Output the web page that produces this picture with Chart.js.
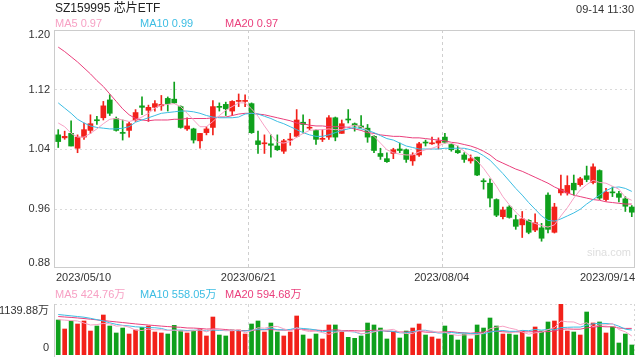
<!DOCTYPE html>
<html><head><meta charset="utf-8">
<script src="https://cdn.jsdelivr.net/npm/chart.js@4.4.0/dist/chart.umd.min.js"></script>
<style>
html,body{margin:0;padding:0;background:#fff;width:640px;height:360px;overflow:hidden;font-family:"Liberation Sans",Arial,"Noto Sans CJK SC",sans-serif;}
#wrap{position:relative;width:640px;height:360px;}
canvas{position:absolute;left:0;}
.t{position:absolute;white-space:nowrap;font-size:11px;line-height:13px;}
</style></head><body>
<div id="wrap">
<canvas id="pc" width="640" height="290" style="top:0"></canvas>
<canvas id="vc" width="640" height="70" style="top:290px"></canvas>
<div class="t" style="left:55px;top:1px;font-size:12px;line-height:14px;color:#222">SZ159995 芯片ETF</div>
<div class="t" style="right:6px;top:3px;color:#333">09-14 11:30</div>
<div class="t" style="left:55px;top:17px;color:#f7a1c4">MA5 0.97</div>
<div class="t" style="left:140px;top:17px;color:#3cbde3">MA10 0.99</div>
<div class="t" style="left:225px;top:17px;color:#ea3f7c">MA20 0.97</div>
<div class="t" style="left:55px;top:288px;color:#f7a1c4">MA5 424.76万</div>
<div class="t" style="left:140px;top:288px;color:#3cbde3">MA10 558.05万</div>
<div class="t" style="left:225px;top:288px;color:#ea3f7c">MA20 594.68万</div>
</div>
<script>
const dates = ("2023/05/10 2023/05/11 2023/05/12 2023/05/15 2023/05/16 2023/05/17 2023/05/18 2023/05/19 2023/05/22 2023/05/23 2023/05/24 2023/05/25 2023/05/26 2023/05/29 2023/05/30 2023/05/31 " +
"2023/06/01 2023/06/02 2023/06/05 2023/06/06 2023/06/07 2023/06/08 2023/06/09 2023/06/12 2023/06/13 2023/06/14 2023/06/15 2023/06/16 2023/06/19 2023/06/20 2023/06/21 2023/06/26 2023/06/27 2023/06/28 2023/06/29 2023/06/30 " +
"2023/07/03 2023/07/04 2023/07/05 2023/07/06 2023/07/07 2023/07/10 2023/07/11 2023/07/12 2023/07/13 2023/07/14 2023/07/17 2023/07/18 2023/07/19 2023/07/20 2023/07/21 2023/07/24 2023/07/25 2023/07/26 2023/07/27 2023/07/28 2023/07/31 " +
"2023/08/01 2023/08/02 2023/08/03 2023/08/04 2023/08/07 2023/08/08 2023/08/09 2023/08/10 2023/08/11 2023/08/14 2023/08/15 2023/08/16 2023/08/17 2023/08/18 2023/08/21 2023/08/22 2023/08/23 2023/08/24 2023/08/25 2023/08/28 2023/08/29 2023/08/30 2023/08/31 " +
"2023/09/01 2023/09/04 2023/09/05 2023/09/06 2023/09/07 2023/09/08 2023/09/11 2023/09/12 2023/09/13 2023/09/14").split(" ");

const opens = [1.059,1.055,1.061,1.041,1.056,1.065,1.079,1.082,1.106,1.081,
1.062,1.065,1.079,1.098,1.092,1.096,1.098,1.108,1.107,1.097,
1.067,1.067,1.051,1.062,1.069,1.097,1.100,1.091,1.104,1.104,
1.101,1.051,1.047,1.047,1.044,1.037,1.052,1.057,1.076,1.068,
1.065,1.053,1.056,1.082,1.061,1.080,1.074,1.071,1.068,1.057,
1.034,1.027,1.034,1.040,1.039,1.024,1.032,1.049,1.047,1.048,
1.056,1.046,1.038,1.032,1.024,1.029,0.997,0.994,0.972,0.949,
0.962,0.945,0.938,0.944,0.931,0.934,0.978,0.928,0.981,0.981,
0.994,0.992,1.004,0.995,1.011,0.972,0.982,0.980,0.973,0.962];

const closes = [1.050,1.057,1.044,1.056,1.066,1.074,1.078,1.098,1.088,1.065,
1.061,1.074,1.089,1.096,1.096,1.101,1.100,1.101,1.102,1.069,
1.071,1.052,1.061,1.067,1.097,1.096,1.094,1.104,1.105,1.105,
1.062,1.046,1.048,1.045,1.039,1.051,1.053,1.079,1.073,1.069,
1.053,1.054,1.082,1.056,1.074,1.079,1.071,1.069,1.056,1.038,
1.030,1.023,1.039,1.038,1.026,1.032,1.047,1.048,1.048,1.051,
1.049,1.039,1.035,1.026,1.027,1.005,0.996,0.974,0.951,0.958,
0.948,0.936,0.946,0.928,0.941,0.920,0.932,0.962,0.986,0.991,
0.985,1.000,0.999,1.016,0.974,0.982,0.981,0.975,0.963,0.955];

const highs = [1.066,1.064,1.078,1.059,1.075,1.086,1.084,1.104,1.113,1.083,
1.079,1.076,1.093,1.110,1.099,1.105,1.112,1.110,1.130,1.098,
1.082,1.068,1.061,1.070,1.105,1.102,1.103,1.105,1.114,1.113,
1.102,1.064,1.059,1.059,1.059,1.053,1.061,1.093,1.086,1.080,
1.066,1.066,1.085,1.083,1.079,1.093,1.075,1.085,1.073,1.058,
1.041,1.035,1.041,1.048,1.040,1.035,1.049,1.052,1.056,1.055,
1.061,1.047,1.044,1.035,1.032,1.029,1.000,1.000,0.973,0.962,
0.964,0.951,0.956,0.945,0.953,0.940,0.981,0.967,1.005,1.004,
1.005,1.002,1.017,1.020,1.012,0.987,0.989,0.983,0.976,0.964];

const lows = [1.042,1.053,1.044,1.035,1.053,1.061,1.073,1.079,1.085,1.064,
1.052,1.056,1.077,1.086,1.077,1.091,1.092,1.091,1.101,1.068,
1.065,1.048,1.041,1.059,1.059,1.091,1.085,1.085,1.097,1.097,
1.061,1.034,1.034,1.029,1.038,1.034,1.045,1.056,1.061,1.066,
1.046,1.050,1.053,1.051,1.061,1.075,1.064,1.068,1.049,1.035,
1.026,1.022,1.027,1.035,1.022,1.018,1.030,1.044,1.046,1.040,
1.048,1.037,1.034,1.022,1.021,1.004,0.986,0.962,0.949,0.946,
0.947,0.932,0.921,0.926,0.929,0.916,0.927,0.927,0.978,0.978,
0.978,0.990,0.996,0.993,0.972,0.970,0.976,0.969,0.956,0.949];

const ma5 = [1.075,1.070,1.061,1.056,1.056,1.061,1.067,1.074,1.080,1.081,
1.079,1.077,1.079,1.083,1.088,1.095,1.099,1.100,1.101,1.097,
1.088,1.079,1.070,1.070,1.077,1.085,1.092,1.097,1.102,1.102,
1.094,1.084,1.071,1.059,1.049,1.048,1.050,1.056,1.061,1.065,
1.066,1.066,1.067,1.066,1.066,1.070,1.072,1.070,1.065,1.057,
1.048,1.039,1.035,1.033,1.032,1.032,1.036,1.039,1.041,1.044,
1.048,1.048,1.044,1.037,1.030,1.024,1.014,1.002,0.990,0.976,
0.965,0.955,0.947,0.943,0.940,0.937,0.935,0.938,0.950,0.961,
0.974,0.985,0.992,0.998,0.995,0.994,0.990,0.986,0.975,0.971];

const ma10 = [1.102,1.095,1.088,1.080,1.075,1.071,1.069,1.068,1.067,1.067,
1.068,1.070,1.076,1.079,1.082,1.085,1.088,1.089,1.090,1.091,
1.091,1.090,1.088,1.085,1.083,1.082,1.082,1.082,1.083,1.087,
1.088,1.087,1.084,1.081,1.077,1.074,1.070,1.066,1.062,1.059,
1.057,1.057,1.059,1.062,1.065,1.067,1.069,1.067,1.065,1.062,
1.058,1.054,1.052,1.048,1.044,1.042,1.040,1.040,1.040,1.040,
1.041,1.041,1.041,1.041,1.039,1.036,1.031,1.025,1.016,1.007,
0.997,0.987,0.978,0.968,0.959,0.950,0.944,0.943,0.946,0.950,
0.954,0.959,0.966,0.972,0.978,0.984,0.988,0.989,0.987,0.983];

const ma20 = [1.177,1.171,1.164,1.157,1.149,1.141,1.132,1.124,1.114,1.104,
1.094,1.086,1.081,1.079,1.078,1.079,1.079,1.079,1.080,1.080,
1.081,1.081,1.081,1.081,1.082,1.083,1.083,1.085,1.087,1.088,
1.088,1.087,1.086,1.084,1.082,1.080,1.078,1.075,1.074,1.072,
1.071,1.071,1.070,1.070,1.070,1.069,1.067,1.065,1.062,1.061,
1.059,1.058,1.057,1.057,1.056,1.055,1.055,1.054,1.053,1.052,
1.051,1.049,1.048,1.046,1.044,1.041,1.037,1.032,1.025,1.021,
1.017,1.013,1.010,1.006,1.002,0.998,0.994,0.989,0.985,0.981,
0.978,0.976,0.974,0.972,0.971,0.969,0.968,0.967,0.966,0.966];

const volumes = [782,581,760,693,760,536,648,894,648,492,
603,469,559,618,648,514,492,469,662,544,
492,544,581,425,849,447,425,559,559,469,
693,760,514,715,514,425,514,872,447,358,
469,358,671,671,521,395,373,425,715,671,
603,358,521,380,536,603,693,447,402,358,
648,447,335,469,358,671,603,827,648,469,
469,447,536,402,626,536,738,760,1139.88,536,
514,447,961,715,738,492,626,268,469,224];

const volMa5 = [790,780,770,760,715,670,680,705,697,645,
657,621,556,548,579,562,566,548,557,536,
532,542,565,517,578,569,545,541,568,494,
541,608,599,630,639,586,536,608,554,523,
532,501,461,505,538,523,526,477,486,516,
557,554,574,507,480,480,547,532,536,501,
510,460,438,451,451,456,487,586,621,644,
603,572,514,465,496,509,568,612,760,742,
738,679,720,635,675,671,706,568,519,425];

const volMa10 = [905,890,875,860,845,820,790,760,720,685,
662,650,630,623,612,609,594,555,553,558,
547,554,556,537,557,551,544,553,543,535,
555,577,570,599,566,563,572,604,592,581,
559,519,534,530,531,528,514,469,496,527,
540,540,525,496,498,519,551,553,521,490,
495,504,485,494,476,483,474,512,536,548,
530,530,550,543,570,556,570,563,612,619,
624,624,666,697,709,704,693,644,577,558];

const volMa20 = [860,850,840,828,815,800,785,770,755,740,
725,710,695,682,670,658,646,635,626,619,
604,602,593,580,584,580,569,552,548,546,
551,565,563,568,561,557,558,578,567,558,
557,548,552,564,548,545,543,536,544,554,
550,529,530,513,514,523,532,511,509,509,
517,522,505,495,487,501,512,532,529,519,
512,517,517,518,523,520,522,537,574,583,
577,577,608,620,639,630,631,603,594,595];

const priceTicks = [0.88, 0.96, 1.04, 1.12, 1.20];
const volTicks = [0, 1139.88];
const volTickLabels = ['0', '1139.88万'];
const dateTicks = ['2023/05/10', '2023/06/21', '2023/08/04', '2023/09/14'];

const RED = '#f2211a', GREEN = '#0fa01c';
const candleColors = opens.map((o, i) => closes[i] >= o ? RED : GREEN);
const FONT = '11px "Liberation Sans", Arial, "Noto Sans CJK SC", sans-serif';

function catEdge(x, idx) {
  const half = (x.getPixelForValue(1) - x.getPixelForValue(0)) / 2;
  return x.getPixelForValue(idx) - half;
}

const pricePlugin = {
  id: 'pricePlugin',
  beforeDatasetsDraw(chart) {
    const {ctx, chartArea: a, scales: {x, y}} = chart;
    ctx.save();
    ctx.lineWidth = 1;
    ctx.strokeStyle = '#dadada';
    ctx.setLineDash([2, 3]);
    priceTicks.forEach((v, k) => {
      if (k === 0 || k === priceTicks.length - 1) return;
      const py = Math.round(y.getPixelForValue(v)) + 0.5;
      ctx.beginPath(); ctx.moveTo(a.left, py); ctx.lineTo(a.right, py); ctx.stroke();
    });
    ctx.setLineDash([3, 3]);
    ctx.strokeStyle = '#cfcfcf';
    dateTicks.slice(1, -1).forEach(d => {
      const px = Math.round(catEdge(x, dates.indexOf(d))) + 0.5;
      ctx.beginPath(); ctx.moveTo(px, a.top); ctx.lineTo(px, a.bottom); ctx.stroke();
    });
    ctx.setLineDash([]);
    ctx.strokeStyle = '#cccccc';
    ctx.strokeRect(Math.round(a.left) - 0.5, Math.round(a.top) + 0.5, Math.round(a.right - a.left), Math.round(a.bottom - a.top) - 1);
    // watermark
    ctx.fillStyle = '#dedede';
    ctx.font = '11px "Liberation Sans", Arial, sans-serif';
    ctx.textAlign = 'right'; ctx.textBaseline = 'middle';
    ctx.fillText('sina.com', a.right - 4, a.bottom - 15);
    // y labels
    ctx.fillStyle = '#333';
    ctx.font = FONT;
    ctx.textAlign = 'right';
    priceTicks.forEach(v => {
      let py = y.getPixelForValue(v);
      py = Math.min(Math.max(py, a.top + 5), a.bottom - 5);
      ctx.fillText(v.toFixed(2), a.left - 5, py);
    });
    // date labels
    dateTicks.forEach((d, k) => {
      const idx = dates.indexOf(d);
      let px;
      if (k === 0) { ctx.textAlign = 'left'; px = catEdge(x, idx) + 1; }
      else if (k === dateTicks.length - 1) { ctx.textAlign = 'right'; px = catEdge(x, idx + 1); }
      else { ctx.textAlign = 'center'; px = catEdge(x, idx); }
      ctx.fillText(d, px, a.bottom + 9.5);
    });
    ctx.restore();
  }
};

const volPlugin = {
  id: 'volPlugin',
  beforeDatasetsDraw(chart) {
    const {ctx, chartArea: a, scales: {x, y}} = chart;
    ctx.save();
    ctx.lineWidth = 1;
    ctx.strokeStyle = '#d6d6d6';
    ctx.setLineDash([2, 3]);
    const top = Math.round(a.top) + 0.5;
    ctx.beginPath(); ctx.moveTo(a.left, top); ctx.lineTo(a.right, top); ctx.stroke();
    const rx = Math.round(a.right) - 0.5;
    ctx.beginPath(); ctx.moveTo(rx, a.top); ctx.lineTo(rx, a.bottom); ctx.stroke();
    ctx.setLineDash([3, 3]);
    dateTicks.slice(1, -1).forEach(d => {
      const px = Math.round(catEdge(x, dates.indexOf(d))) + 0.5;
      ctx.beginPath(); ctx.moveTo(px, a.top); ctx.lineTo(px, a.bottom); ctx.stroke();
    });
    ctx.setLineDash([]);
    ctx.strokeStyle = '#cccccc';
    const lx = Math.round(a.left) - 0.5;
    ctx.beginPath(); ctx.moveTo(lx, a.top); ctx.lineTo(lx, a.bottom + 2); ctx.stroke();
    ctx.fillStyle = '#333';
    ctx.font = FONT;
    ctx.textAlign = 'right'; ctx.textBaseline = 'middle';
    volTicks.forEach((v, k) => {
      let py = y.getPixelForValue(v);
      py = Math.min(Math.max(py, a.top + 7), a.bottom - 7);
      ctx.fillText(volTickLabels[k], a.left - 6, py);
    });
    ctx.restore();
  }
};

const lineDs = (data, color) => ({type: 'line', data, borderColor: color, borderWidth: 1, pointRadius: 0, fill: false, order: 0});

new Chart(document.getElementById('pc'), {
  type: 'bar',
  data: {
    labels: dates,
    datasets: [
      lineDs(ma5, '#f7a1c4'),
      lineDs(ma10, '#3cbde3'),
      lineDs(ma20, '#ea3f7c'),
      {data: lows.map((l, i) => [l, highs[i]]), backgroundColor: candleColors, barThickness: 1, grouped: false, borderWidth: 0, order: 2},
      {data: opens.map((o, i) => [o, closes[i]]), backgroundColor: candleColors, barThickness: 5, grouped: false, borderWidth: 0, minBarLength: 1, order: 1}
    ]
  },
  options: {
    responsive: false, animation: false, events: [],
    layout: {padding: {left: 55, right: 5, top: 30, bottom: 22}},
    plugins: {legend: {display: false}, tooltip: {enabled: false}},
    scales: {
      x: {display: false, offset: true},
      y: {display: false, min: priceTicks[0], max: priceTicks[priceTicks.length - 1]}
    }
  },
  plugins: [pricePlugin]
});

new Chart(document.getElementById('vc'), {
  type: 'bar',
  data: {
    labels: dates,
    datasets: [
      lineDs(volMa5, '#f7a1c4'),
      lineDs(volMa10, '#3cbde3'),
      lineDs(volMa20, '#ea3f7c'),
      {data: volumes, backgroundColor: candleColors, barThickness: 4, grouped: false, borderWidth: 0, order: 1}
    ]
  },
  options: {
    responsive: false, animation: false, events: [],
    layout: {padding: {left: 55, right: 5, top: 14, bottom: 5}},
    plugins: {legend: {display: false}, tooltip: {enabled: false}},
    scales: {
      x: {display: false, offset: true},
      y: {display: false, min: volTicks[0], max: volTicks[1]}
    }
  },
  plugins: [volPlugin]
});
</script>
</body></html>
